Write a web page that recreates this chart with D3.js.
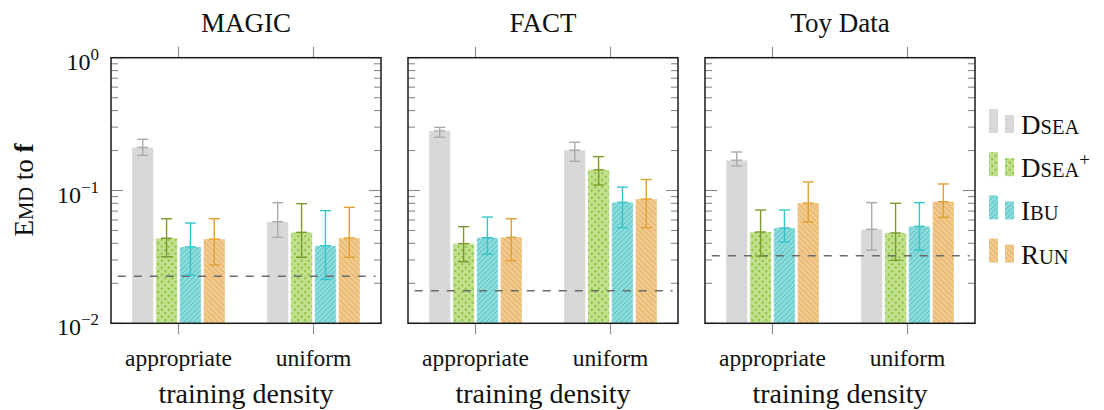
<!DOCTYPE html>
<html>
<head>
<meta charset="utf-8">
<script src="https://cdn.jsdelivr.net/npm/d3@7"></script>
<style>
  html, body { margin: 0; padding: 0; background: #fff; }
  svg { display: block; }
  text { font-family: "Liberation Serif", "DejaVu Serif", serif; fill: #111; }
</style>
</head>
<body>
<svg id="chart" width="1104" height="410"></svg>
<script>
// Data sets (panels), training densities (groups) and unfolding methods (series)
const datasets = ["MAGIC", "FACT", "Toy Data"];
const densities = ["appropriate", "uniform"];
const methods = ["Dsea", "Dsea+", "Ibu", "Run"];

// EMD to f, ordered MAGIC-appropriate, MAGIC-uniform, FACT-appropriate, FACT-uniform, Toy-appropriate, Toy-uniform
const dseaMean  = [0.211, 0.0582, 0.281, 0.201, 0.169, 0.0510];
const dseaLow   = [0.184, 0.0444, 0.252, 0.166, 0.153, 0.0355];
const dseaHigh  = [0.243, 0.0810, 0.299, 0.231, 0.195, 0.0810];

const dseapMean = [0.0437, 0.0484, 0.0398, 0.143, 0.0487, 0.0479];
const dseapLow  = [0.0317, 0.0314, 0.0291, 0.110, 0.0321, 0.0298];
const dseapHigh = [0.0613, 0.0796, 0.0534, 0.180, 0.0713, 0.0801];

const ibuMean   = [0.0376, 0.0384, 0.0441, 0.0815, 0.0522, 0.0537];
const ibuLow    = [0.0230, 0.0214, 0.0331, 0.0525, 0.0410, 0.0355];
const ibuHigh   = [0.0569, 0.0705, 0.0631, 0.106, 0.0713, 0.0810];

const runMean   = [0.0431, 0.0439, 0.0444, 0.0863, 0.0805, 0.0824];
const runLow    = [0.0275, 0.0314, 0.0296, 0.0525, 0.0579, 0.0628];
const runHigh   = [0.0613, 0.0747, 0.0613, 0.121, 0.116, 0.112];

// Reference level (dashed line) per data set
const referenceLevel = [0.0226, 0.0176, 0.0323];

// Y axis tick labels (major decades)
const yTickValues = [1, 0.1, 0.01];
const yTickExponents = ["0", "\u22121", "\u22122"];

const seriesMean = [dseaMean, dseapMean, ibuMean, runMean];
const seriesLow = [dseaLow, dseapLow, ibuLow, runLow];
const seriesHigh = [dseaHigh, dseapHigh, ibuHigh, runHigh];

// Styling
const barBase = ["#d8d8d8", "#c0e08e", "#8ddada", "#f0c98e"];
const barInk = ["#d8d8d8", "#8cc43c", "#3dbfc6", "#e3a24a"];
const errColor = ["#aaaaaa", "#7b9a2a", "#35c4c8", "#e0a033"];
const fillIds = ["fill-dsea", "fill-dseap", "fill-ibu", "fill-run"];

const svg = d3.select("#chart");
const defs = svg.append("defs");

// Gray: plain
defs.append("pattern").attr("id", fillIds[0]).attr("patternUnits", "userSpaceOnUse")
  .attr("width", 4).attr("height", 4)
  .append("rect").attr("width", 4).attr("height", 4).attr("fill", barBase[0]);

// Green: staggered dots
{
  const p = defs.append("pattern").attr("id", fillIds[1]).attr("patternUnits", "userSpaceOnUse")
    .attr("width", 7).attr("height", 7);
  p.append("rect").attr("width", 7).attr("height", 7).attr("fill", barBase[1]);
  [[1.75, 1.75], [5.25, 5.25]].forEach(([cx, cy]) =>
    p.append("circle").attr("cx", cx).attr("cy", cy).attr("r", 1.15).attr("fill", barInk[1]));
}
// Cyan: north-east lines
{
  const s = 5;
  const p = defs.append("pattern").attr("id", fillIds[2]).attr("patternUnits", "userSpaceOnUse")
    .attr("width", s).attr("height", s);
  p.append("rect").attr("width", s).attr("height", s).attr("fill", barBase[2]);
  p.append("path").attr("d", `M0,${s} L${s},0 M${-s/2},${s/2} L${s/2},${-s/2} M${s/2},${s*1.5} L${s*1.5},${s/2}`)
    .attr("stroke", barInk[2]).attr("stroke-width", 0.8);
}
// Orange: north-west lines
{
  const s = 5.5;
  const p = defs.append("pattern").attr("id", fillIds[3]).attr("patternUnits", "userSpaceOnUse")
    .attr("width", s).attr("height", s);
  p.append("rect").attr("width", s).attr("height", s).attr("fill", barBase[3]);
  p.append("path").attr("d", `M0,0 L${s},${s} M${-s/2},${s/2} L${s/2},${s*1.5} M${s/2},${-s/2} L${s*1.5},${s/2}`)
    .attr("stroke", barInk[3]).attr("stroke-width", 0.8);
}

// Scales
const panelScale = d3.scaleBand().domain(datasets).range([111, 975]).paddingInner(0.0909);
const panelW = panelScale.bandwidth();
const topY = 57.7, bottomY = 323.3;
const y = d3.scaleLog().domain([0.01, 1]).range([bottomY, topY]);
const groupScale = d3.scaleBand().domain(densities).range([0, panelW]);
const barScale = d3.scaleBand().domain(methods).range([-46.5, 46.5]).paddingInner(0.1);

const minorTicks = [];
[0.01, 0.1].forEach(d => { for (let k = 2; k <= 9; k++) minorTicks.push(d * k); });

datasets.forEach((ds, pi) => {
  const x0 = panelScale(ds);
  const g = svg.append("g").attr("transform", `translate(${x0},0)`);

  // Minor and major y ticks, inside, on both sides
  const tickG = g.append("g").attr("stroke", "#8a8a8a").attr("stroke-width", 1.1);
  minorTicks.forEach(v => {
    tickG.append("line").attr("x1", 0).attr("x2", 7).attr("y1", y(v)).attr("y2", y(v));
    tickG.append("line").attr("x1", panelW - 7).attr("x2", panelW).attr("y1", y(v)).attr("y2", y(v));
  });
  yTickValues.forEach(v => {
    tickG.append("line").attr("x1", 0).attr("x2", 12).attr("y1", y(v)).attr("y2", y(v));
    tickG.append("line").attr("x1", panelW - 12).attr("x2", panelW).attr("y1", y(v)).attr("y2", y(v));
  });

  // X ticks, outside top and bottom
  densities.forEach(dn => {
    const cx = groupScale(dn) + groupScale.bandwidth() / 2;
    tickG.append("line").attr("x1", cx).attr("x2", cx).attr("y1", topY - 11).attr("y2", topY);
    tickG.append("line").attr("x1", cx).attr("x2", cx).attr("y1", bottomY).attr("y2", bottomY + 11);
  });

  // Bars
  densities.forEach((dn, gi) => {
    const idx = pi * 2 + gi;
    const cx = groupScale(dn) + groupScale.bandwidth() / 2;
    methods.forEach((m, si) => {
      const bx = cx + barScale(m);
      const bw = barScale.bandwidth();
      const v = seriesMean[si][idx];
      g.append("rect")
        .attr("x", bx).attr("width", bw)
        .attr("y", y(v)).attr("height", y(0.01) - y(v))
        .attr("fill", `url(#${fillIds[si]})`)
        .attr("stroke", "#ffffff").attr("stroke-opacity", 0.35).attr("stroke-width", 1);
    });
  });

  // Reference level
  g.append("line")
    .attr("x1", groupScale("appropriate") + groupScale.bandwidth() / 2 - 0.45 * groupScale.step())
    .attr("x2", groupScale("uniform") + groupScale.bandwidth() / 2 + 0.46 * groupScale.step())
    .attr("y1", y(referenceLevel[pi])).attr("y2", y(referenceLevel[pi]))
    .attr("stroke", "#6a6a6a").attr("stroke-width", 1.5).attr("stroke-dasharray", "8,8");

  // Error bars
  densities.forEach((dn, gi) => {
    const idx = pi * 2 + gi;
    const cx = groupScale(dn) + groupScale.bandwidth() / 2;
    methods.forEach((m, si) => {
      const ex = cx + barScale(m) + barScale.bandwidth() / 2;
      const lo = seriesLow[si][idx], hi = seriesHigh[si][idx], v = seriesMean[si][idx];
      const eg = g.append("g").attr("stroke", errColor[si]).attr("stroke-width", 1.4);
      eg.append("line").attr("x1", ex).attr("x2", ex).attr("y1", y(hi)).attr("y2", y(lo));
      [hi, v, lo].forEach(val =>
        eg.append("line").attr("x1", ex - 5.5).attr("x2", ex + 5.5).attr("y1", y(val)).attr("y2", y(val)));
    });
  });

  // Frame
  g.append("rect").attr("x", 0).attr("y", topY).attr("width", panelW).attr("height", bottomY - topY)
    .attr("fill", "none").attr("stroke", "#1a1a1a").attr("stroke-width", 1.5);

  // Title
  g.append("text").attr("x", panelW / 2).attr("y", 32).attr("text-anchor", "middle")
    .attr("font-size", 27).text(ds);

  // Category labels
  densities.forEach(dn => {
    const cx = groupScale(dn) + groupScale.bandwidth() / 2;
    g.append("text").attr("x", cx).attr("y", 366).attr("text-anchor", "middle")
      .attr("font-size", 23.5).text(dn);
  });

  // Axis label
  g.append("text").attr("x", panelW / 2).attr("y", 403).attr("text-anchor", "middle")
    .attr("font-size", 28).text("training density");
});

// Y tick labels on the first panel
yTickValues.forEach((v, i) => {
  const t = svg.append("text").attr("x", 99).attr("y", y(v) + 12).attr("text-anchor", "end")
    .attr("font-size", 24);
  t.append("tspan").text("10");
  t.append("tspan").attr("dy", -10).attr("font-size", 17).text(yTickExponents[i]);
});

// Y axis title
{
  const t = svg.append("text").attr("transform", "translate(33,190) rotate(-90)")
    .attr("text-anchor", "middle").attr("font-size", 27);
  t.append("tspan").text("E");
  t.append("tspan").attr("font-size", 20.5).text("MD");
  t.append("tspan").text(" to ");
  t.append("tspan").attr("font-weight", "bold").text("f");
}

// Legend
const legendNames = [["D", "SEA", ""], ["D", "SEA", "+"], ["I", "BU", ""], ["R", "UN", ""]];
methods.forEach((m, i) => {
  const base = 133 + i * 43.2;
  const lg = svg.append("g");
  lg.append("rect").attr("x", 989).attr("y", base - 24).attr("width", 9).attr("height", 24)
    .attr("fill", `url(#${fillIds[i]})`);
  lg.append("rect").attr("x", 1005).attr("y", base - 18).attr("width", 9).attr("height", 18)
    .attr("fill", `url(#${fillIds[i]})`);
  const t = lg.append("text").attr("x", 1021).attr("y", base + 1).attr("font-size", 27);
  t.append("tspan").text(legendNames[i][0]);
  t.append("tspan").attr("font-size", 20.5).text(legendNames[i][1]);
  if (legendNames[i][2]) t.append("tspan").attr("dy", -11).attr("font-size", 19).text(legendNames[i][2]);
});
</script>
</body>
</html>
